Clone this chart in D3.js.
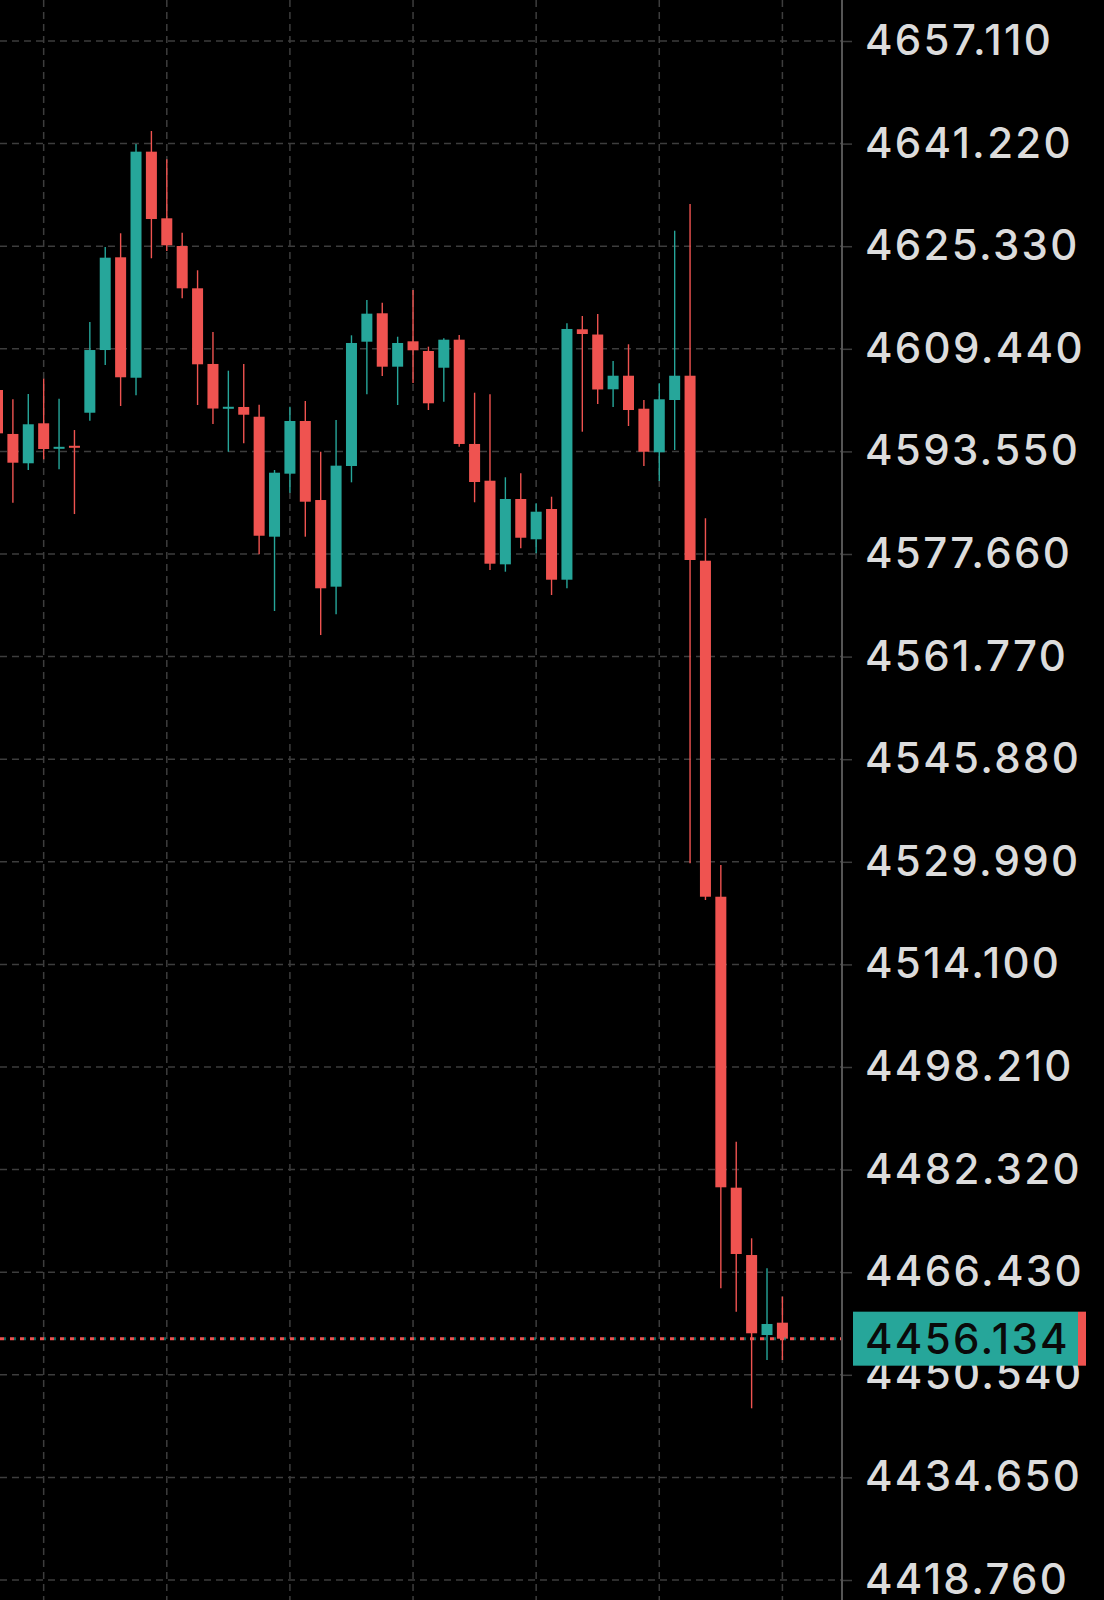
<!DOCTYPE html>
<html lang="en">
<head>
<meta charset="utf-8" />
<title>Candles</title>
<script src="https://d3js.org/d3.v7.min.js"></script>
<style>
    body { margin: 0; background: #000; }
    svg { display: block; }
    .lbl { font-family: Inter, "Noto Sans", sans-serif; font-weight: 500; }
</style>
</head>
<body>
<script>
// candle data (index 0 is the partly hidden one on the left)
const opens  = [4603.06, 4596.25, 4591.71, 4597.90, 4594.15, 4594.42, 4599.54, 4609.25, 4623.61, 4604.96,
                4639.97, 4629.65, 4625.36, 4618.81, 4607.09, 4600.35, 4600.43, 4598.92, 4580.34, 4590.10,
                4598.26, 4586.02, 4572.60, 4591.29, 4610.54, 4614.94, 4606.67, 4610.60, 4609.10, 4606.51,
                4610.85, 4594.70, 4589.01, 4576.06, 4586.18, 4579.94, 4584.63, 4573.68, 4612.46, 4611.65,
                4603.17, 4605.27, 4600.16, 4593.41, 4601.51, 4605.27, 4576.62, 4524.58, 4479.52, 4469.09,
                4456.70, 4458.61];
const highs  = [4603.83, 4601.62, 4602.44, 4604.81, 4601.71, 4596.86, 4613.59, 4625.21, 4627.33, 4641.16,
                4643.17, 4638.79, 4627.42, 4621.60, 4612.04, 4606.05, 4607.09, 4600.78, 4590.67, 4600.47,
                4601.36, 4593.50, 4598.41, 4611.53, 4617.00, 4616.58, 4611.31, 4618.55, 4609.77, 4611.07,
                4611.58, 4602.64, 4602.39, 4589.54, 4590.16, 4585.51, 4586.53, 4613.39, 4614.52, 4614.83,
                4607.55, 4610.14, 4601.51, 4604.10, 4627.73, 4631.87, 4583.19, 4529.49, 4486.64, 4471.68,
                4467.04, 4462.64];
const lows   = [4595.32, 4585.61, 4590.67, 4592.33, 4590.78, 4583.85, 4598.31, 4606.93, 4600.58, 4602.24,
                4623.46, 4624.59, 4617.26, 4600.74, 4597.79, 4593.50, 4594.80, 4577.61, 4568.83, 4587.15,
                4580.34, 4565.11, 4568.32, 4588.76, 4602.39, 4605.23, 4600.74, 4604.14, 4599.96, 4601.25,
                4594.28, 4585.67, 4575.18, 4574.92, 4578.54, 4577.77, 4571.31, 4572.35, 4596.60, 4600.89,
                4600.43, 4597.48, 4591.29, 4588.97, 4593.77, 4529.76, 4524.07, 4463.94, 4460.31, 4445.35,
                4452.83, 4452.83];
const closes = [4596.35, 4591.80, 4597.75, 4593.92, 4594.26, 4594.31, 4609.25, 4623.55, 4605.03, 4639.97,
                4629.54, 4625.47, 4618.81, 4607.04, 4600.19, 4600.46, 4599.23, 4580.49, 4590.25, 4598.26,
                4585.76, 4572.35, 4591.34, 4610.34, 4614.88, 4606.67, 4610.34, 4609.21, 4601.00, 4610.85,
                4594.70, 4588.81, 4576.16, 4586.18, 4580.18, 4584.21, 4573.68, 4612.51, 4611.73, 4603.14,
                4605.27, 4599.96, 4593.50, 4601.62, 4605.27, 4576.73, 4524.58, 4479.58, 4469.25, 4456.97,
                4458.41, 4456.134];

// price axis labels
const priceTicks = [4657.110, 4641.220, 4625.330, 4609.440, 4593.550, 4577.660, 4561.770, 4545.880,
                    4529.990, 4514.100, 4498.210, 4482.320, 4466.430, 4450.540, 4434.650, 4418.760];
// candles sitting on the vertical grid lines
const gridCandles = [3, 11, 19, 27, 35, 43, 51];
const lastPrice = 4456.134;

const W = 1104, H = 1600, axisX = 842;
const up = "#26a69a", down = "#ef5350";

const candles = opens.map((o, i) => ({
    i: i, open: o, high: highs[i], low: lows[i], close: closes[i]
}));

const x = d3.scaleLinear().domain([0, 51]).range([-2.5, 782.4]);
const y = d3.scaleLinear().domain([4657.110, 4418.760]).range([41, 1580]);

const svg = d3.select("body").append("svg")
    .attr("width", W)
    .attr("height", H)
    .style("background", "#000");

// grid
svg.append("g").selectAll("line")
    .data(priceTicks)
    .enter().append("line")
    .attr("x1", 0).attr("x2", axisX)
    .attr("y1", d => y(d)).attr("y2", d => y(d))
    .attr("stroke", "#3d3d3d").attr("stroke-width", 1.5)
    .attr("stroke-dasharray", "7,5");

svg.append("g").selectAll("line")
    .data(gridCandles)
    .enter().append("line")
    .attr("x1", d => x(d)).attr("x2", d => x(d))
    .attr("y1", 0).attr("y2", H)
    .attr("stroke", "#3d3d3d").attr("stroke-width", 1.5)
    .attr("stroke-dasharray", "7,5");

// candles
const bodyW = 11;
let g = svg.append("g").selectAll("g")
    .data(candles)
    .enter().append("g");

g.append("line")
    .attr("x1", d => x(d.i)).attr("x2", d => x(d.i))
    .attr("y1", d => y(d.high)).attr("y2", d => y(d.low))
    .attr("stroke", d => d.close >= d.open ? up : down)
    .attr("stroke-width", 1.4);

g.append("rect")
    .attr("x", d => x(d.i) - bodyW / 2)
    .attr("width", bodyW)
    .attr("y", d => y(Math.max(d.open, d.close)))
    .attr("height", d => Math.max(2, Math.abs(y(d.open) - y(d.close))))
    .attr("fill", d => d.close >= d.open ? up : down);

// last price dotted line
svg.append("line")
    .attr("x1", 0).attr("x2", axisX)
    .attr("y1", y(lastPrice)).attr("y2", y(lastPrice))
    .attr("stroke", down).attr("stroke-width", 3)
    .attr("stroke-dasharray", "4,6");
svg.append("line")
    .attr("x1", 4).attr("x2", axisX)
    .attr("y1", y(lastPrice)).attr("y2", y(lastPrice))
    .attr("stroke", up).attr("stroke-width", 3).attr("opacity", 0.6)
    .attr("stroke-dasharray", "2,8");

// right price axis
const axis = d3.axisRight(y)
    .tickValues(priceTicks)
    .tickFormat(d3.format(".3f"))
    .tickSize(10)
    .tickPadding(13);

const ax = svg.append("g")
    .attr("transform", `translate(${axisX},0)`)
    .call(axis);
ax.select(".domain").remove();
ax.selectAll(".tick line").attr("stroke", "#3d3d3d").attr("stroke-width", 1.5);
ax.selectAll(".tick text")
    .attr("class", "lbl")
    .attr("fill", "#dcdcdc")
    .attr("font-size", 42)
    .attr("letter-spacing", 2.3);

svg.append("line")
    .attr("x1", axisX).attr("x2", axisX)
    .attr("y1", 0).attr("y2", H)
    .attr("stroke", "#555").attr("stroke-width", 2);

// last price tag
const tagY = y(lastPrice);
svg.append("rect")
    .attr("x", 1078).attr("y", tagY - 27)
    .attr("width", 8).attr("height", 54)
    .attr("fill", down);
svg.append("rect")
    .attr("x", 853).attr("y", tagY - 27)
    .attr("width", 225).attr("height", 54)
    .attr("fill", up);
svg.append("text")
    .attr("class", "lbl")
    .attr("x", 865).attr("y", tagY)
    .attr("dy", "0.36em")
    .attr("fill", "#0a0a0a")
    .attr("font-size", 42)
    .attr("letter-spacing", 2.3)
    .text(d3.format(".3f")(lastPrice));
</script>
</body>
</html>
